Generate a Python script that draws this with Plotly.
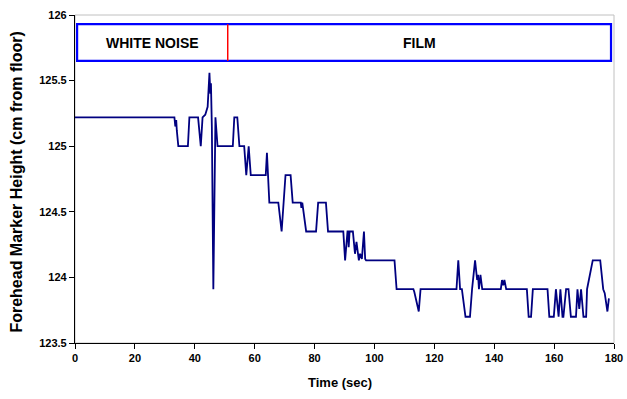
import plotly.graph_objects as go

time_sec = [0, 33.2, 33.5, 33.8, 34.0, 34.5, 37.7, 38.2, 41.1, 42.0, 42.6, 43.5, 44.3, 44.9, 45.2, 45.4, 45.7, 46.2,
            46.9, 47.6, 52.7, 53.2, 54.2, 54.9, 56.5, 57.2, 58.0, 58.7, 63.7, 64.1, 64.9, 67.9, 69.0, 69.7, 70.3,
            72.0, 72.7, 75.4, 75.6, 75.9, 77.2, 80.5, 81.2, 83.8, 84.5, 89.6, 90.2, 91.0, 91.2, 91.4, 91.7, 92.8,
            93.5, 94.0, 94.8, 95.2, 95.8, 96.5, 96.9, 97.2, 106.7, 107.4, 113.0, 113.3, 114.8, 115.4, 127.4, 128.0,
            128.6, 129.2, 130.4, 131.9, 132.6, 133.6, 134.3, 134.6, 134.9, 135.4, 136.0, 142.2, 142.6, 143.0, 143.4,
            144.0, 150.9, 151.5, 152.3, 152.9, 157.8, 158.4, 159.9, 160.6, 161.5, 162.1, 162.8, 163.1, 164.0, 164.8,
            165.6, 167.3, 167.8, 168.4, 169.0, 169.8, 170.7, 171.0, 171.7, 172.3, 172.9, 175.4, 176.4, 176.9,
            177.3, 177.8, 178.3]
height_cm = [125.22, 125.22, 125.15, 125.20, 125.12, 125.00, 125.00, 125.22, 125.22, 125.00, 125.22, 125.24, 125.30,
             125.56, 125.40, 125.48, 125.15, 123.91, 125.22, 125.00, 125.00, 125.22, 125.22, 125.00, 125.00, 124.78,
             125.00, 124.78, 124.78, 124.95, 124.57, 124.57, 124.35, 124.57, 124.78, 124.78, 124.57, 124.57, 124.53,
             124.57, 124.35, 124.35, 124.57, 124.57, 124.35, 124.35, 124.13, 124.35, 124.35, 124.23, 124.35, 124.35,
             124.18, 124.27, 124.13, 124.18, 124.14, 124.35, 124.14, 124.13, 124.13, 123.91, 123.91, 123.89, 123.74,
             123.91, 123.91, 124.13, 123.91, 123.91, 123.70, 123.70, 123.91, 124.13, 123.98, 124.02, 123.91, 124.02,
             123.91, 123.91, 123.98, 123.94, 123.98, 123.91, 123.91, 123.70, 123.70, 123.91, 123.91, 123.70, 123.70,
             123.91, 123.70, 123.91, 123.70, 123.70, 123.91, 123.91, 123.70, 123.70, 123.91, 123.76, 123.91, 123.70,
             123.70, 123.91, 124.00, 124.05, 124.13, 124.13, 123.91, 123.88, 123.82, 123.74, 123.84]

x_ticks = [0, 20, 40, 60, 80, 100, 120, 140, 160, 180]
y_ticks = [123.5, 124, 124.5, 125, 125.5, 126]
phase_labels = ["WHITE NOISE", "FILM"]
phase_bounds = [0.7, 51, 179]
x_title = "Time (sec)"
y_title = "Forehead Marker Height (cm from floor)"

FONT = "Liberation Sans, Arial, sans-serif"

fig = go.Figure()
fig.add_trace(go.Scatter(x=time_sec, y=height_cm, mode="lines",
                         line=dict(color="#000080", width=1.8), showlegend=False,
                         hoverinfo="skip"))

# plot area frame (light gray)
fig.add_shape(type="rect", xref="paper", yref="paper", x0=0, x1=1, y0=0, y1=1,
              line=dict(color="#c0c0c0", width=1), layer="below")

box_y0, box_y1 = 125.65, 125.93
fig.add_shape(type="rect", x0=phase_bounds[0], x1=phase_bounds[2], y0=box_y0, y1=box_y1,
              line=dict(color="#0000ff", width=2.2), fillcolor="white", layer="above")
fig.add_shape(type="line", x0=phase_bounds[1], x1=phase_bounds[1], y0=box_y0, y1=box_y1,
              line=dict(color="#ff0000", width=1.5))
for i, lab in enumerate(phase_labels):
    fig.add_annotation(x=(phase_bounds[i] + phase_bounds[i + 1]) / 2, y=(box_y0 + box_y1) / 2,
                       text=lab, showarrow=False,
                       font=dict(family=FONT, size=14, color="black", weight="bold"))

# axis titles
fig.add_annotation(xref="paper", yref="paper", x=-0.1076, y=0.489, text=y_title, textangle=-90,
                   showarrow=False, xanchor="center", yanchor="middle",
                   font=dict(family=FONT, size=16, color="black", weight="bold"))
fig.add_annotation(xref="paper", yref="paper", x=0.4917, y=-0.119, text=x_title,
                   showarrow=False, xanchor="center", yanchor="middle",
                   font=dict(family=FONT, size=13, color="black", weight="bold"))

fig.update_layout(
    width=627, height=399,
    margin=dict(l=75, r=13, t=15, b=56, autoexpand=False),
    paper_bgcolor="white", plot_bgcolor="white",
    font=dict(family=FONT, color="black"),
)
fig.update_xaxes(range=[0, 180], tickvals=x_ticks, showgrid=False, zeroline=False, automargin=False,
                 showline=True, linecolor="black", linewidth=1.2,
                 ticks="outside", ticklen=5, tickcolor="black",
                 tickfont=dict(family=FONT, size=11, weight="bold"))
fig.update_yaxes(range=[123.5, 126], tickvals=y_ticks, showgrid=False, zeroline=False, automargin=False,
                 showline=True, linecolor="black", linewidth=1.2,
                 ticks="outside", ticklen=5, tickcolor="black",
                 tickfont=dict(family=FONT, size=11, weight="bold"))

fig.write_html("out.html")
